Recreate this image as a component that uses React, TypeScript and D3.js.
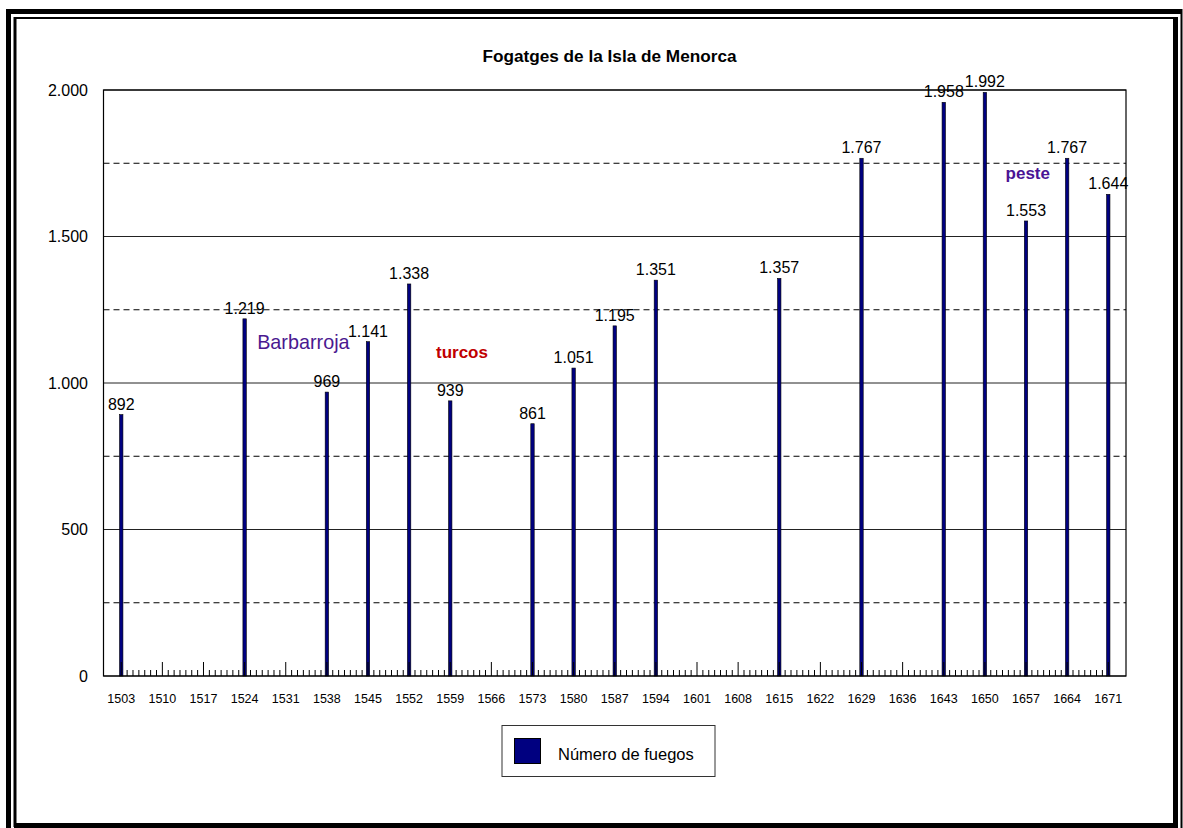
import * as d3 from "d3";

// bars: year -> number of hearths (fuegos)
const barYears = [1503, 1524, 1538, 1545, 1552, 1559, 1573, 1580, 1587, 1594, 1615, 1629, 1643, 1650, 1657, 1664, 1671];
const barValues = [892, 1219, 969, 1141, 1338, 939, 861, 1051, 1195, 1351, 1357, 1767, 1958, 1992, 1553, 1767, 1644];
const yTicks = [0, 500, 1000, 1500, 2000];
const yDashed = [250, 750, 1250, 1750];
const firstYear = 1503;
const lastYear = 1671;
const labelStep = 7;

const notes = [
    { text: "Barbarroja", year: 1534, value: 1116, color: "#4a1890", weight: "normal", size: 19.8 },
    { text: "turcos", year: 1561, value: 1085, color: "#c00000", weight: "bold", size: 17 },
    { text: "peste", year: 1657.3, value: 1696, color: "#4a1495", weight: "bold", size: 17 },
];

const W = 1183, H = 828;
const plot = { left: 103.5, right: 1126, top: 90, bottom: 676 };
const font = "'Liberation Sans', Arial, sans-serif";

function fmt(v: number) {
    return d3.format(",")(v).replace(/,/g, ".");
}

export default function App() {
    const years = d3.range(firstYear, lastYear + 1);
    const x = d3.scaleBand<number>()
        .domain(years)
        .range([plot.left + 14.8, plot.right - 14.8]);
    const cx = (yr: number) => x(yr)! + x.bandwidth() / 2;
    // fractional years for annotations
    const xf = d3.scaleLinear()
        .domain([firstYear, lastYear])
        .range([cx(firstYear), cx(lastYear)]);
    const y = d3.scaleLinear().domain([0, 2000]).range([plot.bottom, plot.top]);
    const labelYears = d3.range(firstYear, lastYear + 1, labelStep);
    const barW = 3.4;

    return (
        <svg width={W} height={H} style={{ position: "absolute", left: 0, top: 0, background: "#fff" }}
            fontFamily={font}>
            {/* frame */}
            <g stroke="#000" fill="none">
                <line x1={8.5} x2={8.5} y1={9} y2={828} strokeWidth={5} />
                <line x1={6} x2={1182} y1={11.5} y2={11.5} strokeWidth={5} />
                <line x1={1181.5} x2={1181.5} y1={9} y2={828} strokeWidth={2} />
                <line x1={15} x2={15} y1={17} y2={827} strokeWidth={3} />
                <line x1={14} x2={1178} y1={18} y2={18} strokeWidth={2} />
                <line x1={1175.5} x2={1175.5} y1={17} y2={828} strokeWidth={5} />
                <line x1={14} x2={1178} y1={825.5} y2={825.5} strokeWidth={5} />
            </g>

            <text x={609.5} y={62} textAnchor="middle" fontSize={17.2} fontWeight="bold">
                Fogatges de la Isla de Menorca
            </text>

            {/* grid */}
            {yDashed.map(v => (
                <line key={"d" + v} x1={plot.left} x2={plot.right} y1={y(v)} y2={y(v)}
                    stroke="#000" strokeDasharray="6,4" />
            ))}
            {yTicks.map(v => (
                <g key={"t" + v}>
                    <line x1={plot.left} x2={plot.right} y1={y(v)} y2={y(v)} stroke="#222" />
                    <text x={88} y={y(v) + 5.5} textAnchor="end" fontSize={16}>{fmt(v)}</text>
                </g>
            ))}

            {/* bars */}
            {barYears.map((yr, i) => (
                <rect key={yr} x={cx(yr) - barW / 2} y={y(barValues[i])} width={barW}
                    height={plot.bottom - y(barValues[i])} fill="#000080" stroke="#000" strokeWidth={0.6} />
            ))}

            {/* category ticks */}
            {years.map(yr => {
                const major = (yr - firstYear) % labelStep === 0;
                return (
                    <line key={"k" + yr} x1={cx(yr)} x2={cx(yr)} y1={plot.bottom}
                        y2={plot.bottom - (major ? 14 : 6)} stroke="#000" strokeWidth={1} />
                );
            })}
            {labelYears.map(yr => (
                <text key={"l" + yr} x={cx(yr)} y={703} textAnchor="middle" fontSize={12.5}>{yr}</text>
            ))}

            <rect x={plot.left} y={plot.top} width={plot.right - plot.left} height={plot.bottom - plot.top}
                fill="none" stroke="#000" strokeWidth={1.2} />

            {/* data labels */}
            {barYears.map((yr, i) => (
                <text key={"v" + yr} x={cx(yr)} y={y(barValues[i]) - 5} textAnchor="middle" fontSize={16}>
                    {fmt(barValues[i])}
                </text>
            ))}

            {notes.map(n => (
                <text key={n.text} x={xf(n.year)} y={y(n.value)} textAnchor="middle" fill={n.color}
                    fontWeight={n.weight} fontSize={n.size}>{n.text}</text>
            ))}

            {/* legend */}
            <rect x={502} y={725.5} width={213} height={51} fill="#fff" stroke="#333" />
            <rect x={514.5} y={738.5} width={26} height={25} fill="#000080" stroke="#000" />
            <text x={558} y={760} fontSize={16.5}>Número de fuegos</text>
        </svg>
    );
}
